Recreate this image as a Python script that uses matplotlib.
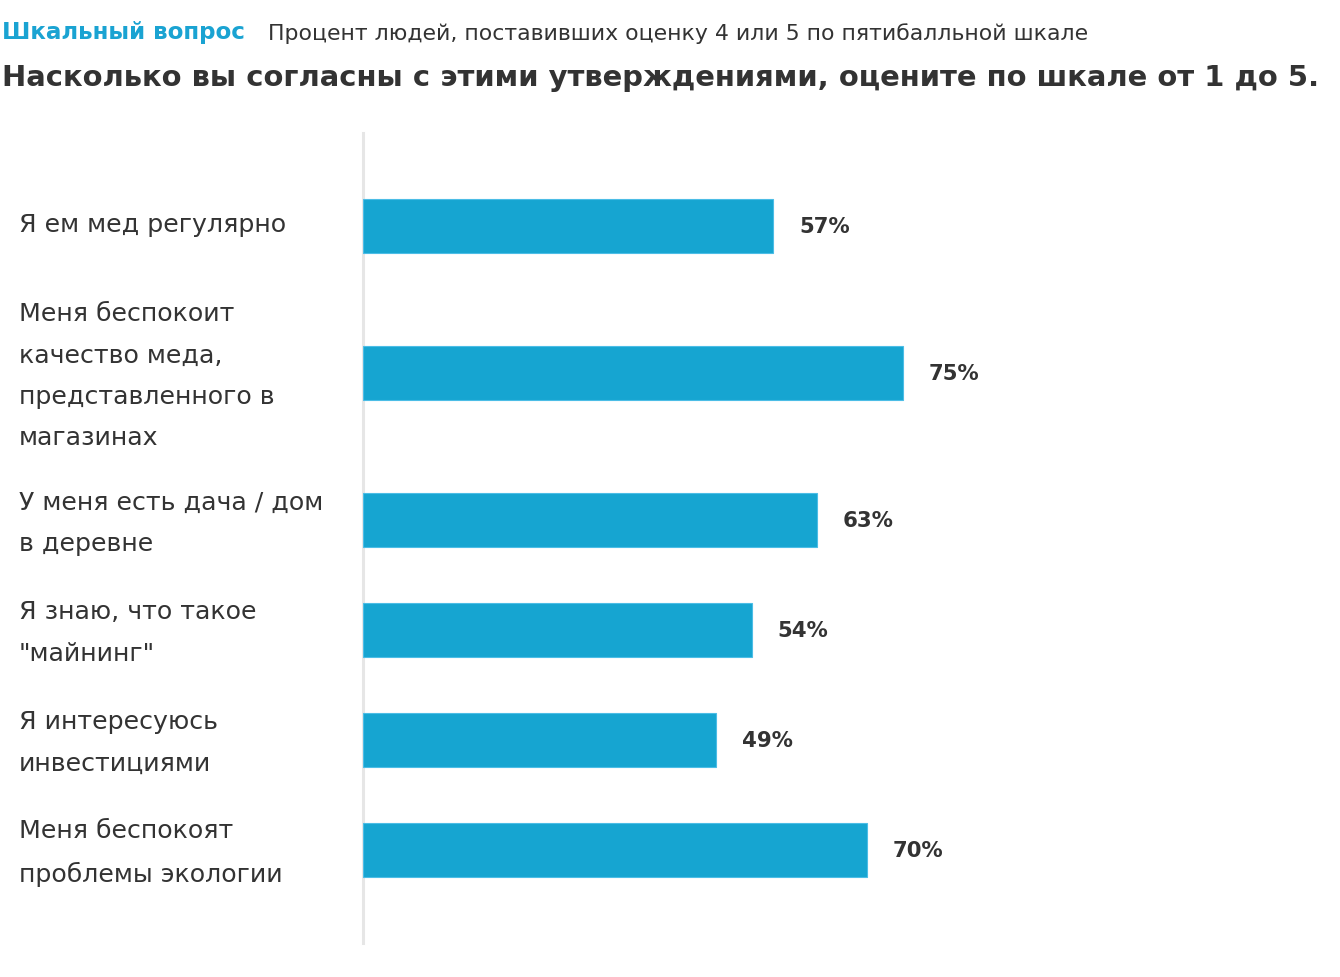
import matplotlib
matplotlib.use("Agg")
import matplotlib.pyplot as plt
import matplotlib.transforms as mtransforms

plt.rcParams['font.family'] = ['DejaVu Sans']

categories = [
    "Я ем мед регулярно",
    "Меня беспокоит\nкачество меда,\nпредставленного в\nмагазинах",
    "У меня есть дача / дом\nв деревне",
    "Я знаю, что такое\n\"майнинг\"",
    "Я интересуюсь\nинвестициями",
    "Меня беспокоят\nпроблемы экологии",
]
values = [57, 75, 63, 54, 49, 70]
value_labels = ["57%", "75%", "63%", "54%", "49%", "70%"]

tag = "Шкальный вопрос"
subtitle = "Процент людей, поставивших оценку 4 или 5 по пятибалльной шкале"
title = "Насколько вы согласны с этими утверждениями, оцените по шкале от 1 до 5."

W, H = 1340, 977
fig = plt.figure(figsize=(W / 100, H / 100), dpi=100)

BAR_COLOR = "#16a5d1"
TEXT = "#333333"

ax_left, ax_top, ax_bottom = 363, 133, 943
ax = fig.add_axes([ax_left / W, 1 - ax_bottom / H, (W - ax_left) / W, (ax_bottom - ax_top) / H])

pad = 38
rows = []
for c in categories:
    n = c.count("\n") + 1
    rows.append(max(110, n * 42 + 16))
centers = []
y = pad
for h in rows:
    centers.append(y + h / 2)
    y += h
total = y + pad

px_per_pct = 7.2
ax.set_xlim(0, (W - ax_left) / px_per_pct)
ax.set_ylim(total, 0)

ax.barh(centers, values, height=54, color=BAR_COLOR, edgecolor="#4cbde6", linewidth=0.8, zorder=3)

for cy, v, lab in zip(centers, values, value_labels):
    ax.text(v + 26 / px_per_pct, cy + 1, lab, va="center", ha="left",
            fontsize=15.3, fontweight="bold", color=TEXT)

trans = mtransforms.blended_transform_factory(fig.transFigure, ax.transData)
for cy, c in zip(centers, categories):
    shift = 3 if "\n" in c else -1
    ax.text(19 / W, cy + shift, c, transform=trans, va="center", ha="left",
            fontsize=18.2, color=TEXT, linespacing=1.9)

for s in ["top", "right", "bottom"]:
    ax.spines[s].set_visible(False)
ax.spines["left"].set_color("#e6e6e6")
ax.spines["left"].set_linewidth(2.2)
ax.spines["left"].set_zorder(1)
ax.set_xticks([])
ax.set_yticks([])

fig.text(2 / W, 1 - 33 / H, tag, fontsize=16.6, fontweight="bold", color="#1aa3d2",
         va="center", ha="left")
fig.text(268 / W, 1 - 34 / H, subtitle, fontsize=15.8, color=TEXT, va="center", ha="left")
fig.text(2 / W, 1 - 78 / H, title, fontsize=20.9, fontweight="bold", color=TEXT,
         va="center", ha="left")

fig.savefig("out.png", dpi=100, facecolor="white")
